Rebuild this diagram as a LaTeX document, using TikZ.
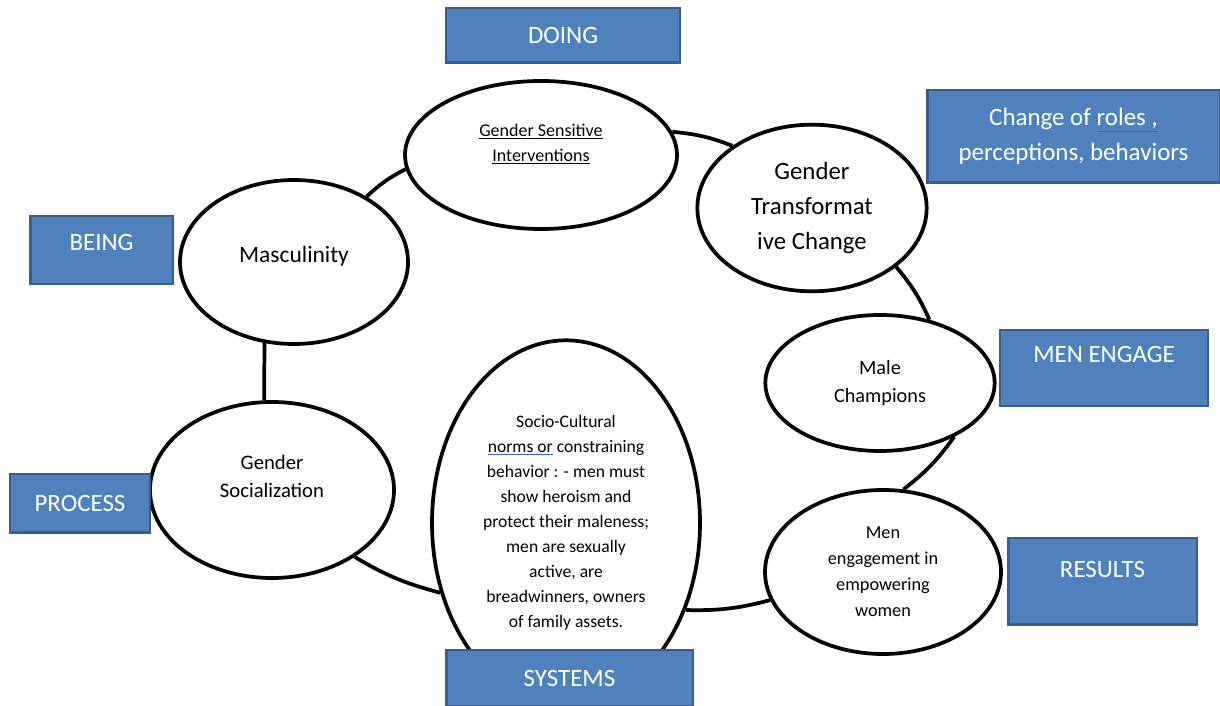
\documentclass[tikz,border=0pt]{standalone}
\usepackage{fontspec}
\setmainfont{Carlito}
\usetikzlibrary{shapes.geometric}
\definecolor{boxblue}{RGB}{79,129,189}
\definecolor{boxedge}{RGB}{56,93,138}
\definecolor{markblue}{RGB}{60,100,200}
\newcommand{\bluemark}[1]{{\color{markblue}\underline{\color{black}#1}}}
\newcommand{\bluemarkw}[1]{{\color{markblue}\underline{\color{white}#1}}}

\tikzset{
  bubble/.style={ellipse,draw=black,line width=2.8pt,fill=white,inner sep=0pt,align=center},
  tag/.style={rectangle,draw=boxedge,line width=2pt,fill=boxblue,text=white,inner sep=0pt,align=center,font=\fontsize{18.7}{26}\selectfont},
  ring/.style={line width=2.8pt,bend left=8},
}

\begin{document}
\begin{tikzpicture}[x=0.75pt,y=0.75pt]
	\useasboundingbox (0,0) rectangle (1220,706);
	% Ring %
	\node[bubble,minimum width=171pt,minimum height=123pt,font=\fontsize{17.6}{22}\selectfont] (masc) at (294,444) {Masculinity\\[-10pt]\mbox{}};
	\node[bubble,minimum width=204pt,minimum height=111pt,font=\fontsize{13.5}{18.75}\selectfont] (sens) at (541,551) {\underline{Gender Sensitive}\\\underline{Interventions}\\\mbox{}};
	\node[bubble,minimum width=172pt,minimum height=125pt,font=\fontsize{18.6}{26}\selectfont] (trans) at (812,498) {Gender\\Transformat\\ive Change};
	\node[bubble,minimum width=172pt,minimum height=102pt,font=\fontsize{15.2}{21}\selectfont] (champ) at (880,323) {Male\\Champions};
	\node[bubble,minimum width=177pt,minimum height=123pt,font=\fontsize{13.7}{19.5}\selectfont] (engag) at (883,134) {Men\\engagement in\\empowering\\women};
	\node[bubble,minimum width=201pt,minimum height=274pt,font=\fontsize{13.2}{18.75}\selectfont] (socio) at (566,183) {Socio-Cultural\\\bluemark{norms or} constraining\\behavior : - men must\\show heroism and\\protect their maleness;\\men are sexually\\active, are\\breadwinners, owners\\of family assets.};
	\node[bubble,minimum width=183pt,minimum height=132pt,font=\fontsize{15.5}{21}\selectfont] (social) at (272,216) {Gender\\Socialization\\\mbox{}};
	\draw[ring] (masc.42) to (sens.186);
	\draw[ring] (sens.10) to (trans.142);
	\draw[ring] (trans.-35) to (champ.52);
	\draw[ring] (champ.-36) to (engag.76);
	\draw[ring] (engag.194) to (socio.-36);
	\draw[ring] (socio.209) to (social.-39);
	\draw[ring,bend left=0] (social.95) to (masc.250);
	% Labels %
	\node[tag,minimum width=175.5pt,minimum height=41pt] (doing) at (563,670.5) {DOING};
	\node[tag,minimum width=219.5pt,minimum height=69.5pt] (change) at (1073.5,569.5) {Change of \bluemarkw{roles ,}\\perceptions, behaviors};
	\node[tag,minimum width=107pt,minimum height=51pt] (being) at (101.5,456) {BEING\\[-14pt]\mbox{}};
	\node[tag,minimum width=156pt,minimum height=57pt] (engage) at (1104,338) {MEN ENGAGE\\[-6pt]\mbox{}};
	\node[tag,minimum width=105pt,minimum height=44pt] (process) at (80,202.5) {PROCESS};
	\node[tag,minimum width=141.5pt,minimum height=65pt] (results) at (1102.5,124.5) {RESULTS\\[-8pt]\mbox{}};
	\node[tag,minimum width=185pt,minimum height=42pt] (systems) at (569.5,28) {SYSTEMS};
\end{tikzpicture}
\end{document}
